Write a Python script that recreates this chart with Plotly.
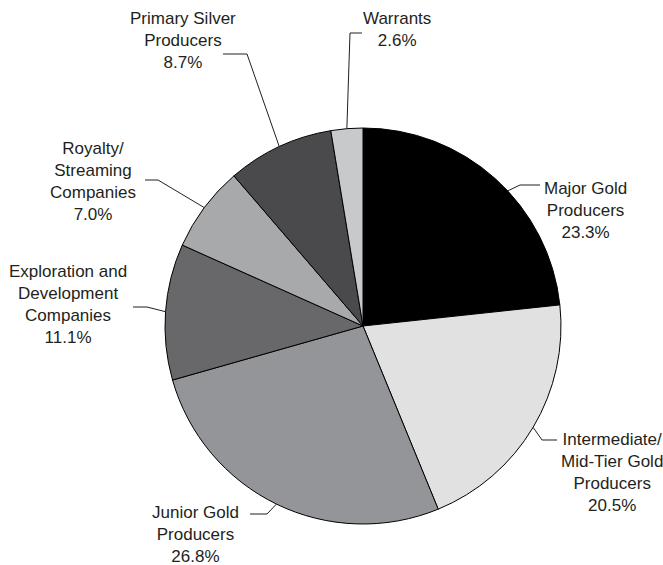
import math
import plotly.graph_objects as go

categories = ["Major Gold<br>Producers", "Intermediate/<br>Mid-Tier Gold<br>Producers",
              "Junior Gold<br>Producers", "Exploration and<br>Development<br>Companies",
              "Royalty/<br>Streaming<br>Companies", "Primary Silver<br>Producers", "Warrants"]
values = [23.3, 20.5, 26.8, 11.1, 7.0, 8.7, 2.6]
colors = ["#000000", "#e1e1e2", "#939598", "#68686a", "#a8a9ab", "#4a4a4c", "#c8c9cb"]

W, H = 663, 565
CX, CY, R = 363, 326, 198

# label layout (pixel positions): text centre, elbow point, line end near text, anchor fraction within slice
label_pos = [(585, 210), (612, 473), (195, 534), (68, 304), (93, 182), (183, 40), (397, 29)]
elbows = [(520, 185), (542, 440), (267, 514), (147, 307), (158, 180), (247, 54), (350, 33)]
ends = [(540, 185), (557, 440), (250, 514), (133, 307), (145, 180), (223, 54), (362, 33)]
anchor_frac = [0.56, 0.5, 0.5, 0.5, 0.5, 0.5, 0.5]

FONT = "Liberation Sans Narrow, Arial Narrow, Liberation Sans, Arial, sans-serif"
TXT = "#231f20"

fig = go.Figure()
fig.add_trace(go.Pie(
    values=values, labels=categories, sort=False, direction="clockwise", rotation=0,
    marker=dict(colors=colors, line=dict(color="#000000", width=1)),
    textinfo="none", hoverinfo="label+value", showlegend=False,
    domain=dict(x=[(CX - R) / W, (CX + R) / W], y=[1 - (CY + R) / H, 1 - (CY - R) / H]),
))

def px(x, y):
    return x / W, 1 - y / H

total = sum(values)
cum = 0.0
shapes, annotations = [], []
for i, (cat, v) in enumerate(zip(categories, values)):
    theta = 2 * math.pi * (cum + anchor_frac[i] * v) / total
    cum += v
    ax, ay = CX + R * math.sin(theta), CY - R * math.cos(theta)
    p0 = px(ax, ay); p1 = px(*elbows[i]); p2 = px(*ends[i])
    shapes.append(dict(type="path", xref="paper", yref="paper",
                       path=f"M {p0[0]},{p0[1]} L {p1[0]},{p1[1]} L {p2[0]},{p2[1]}",
                       line=dict(color=TXT, width=1)))
    tx, ty = px(*label_pos[i])
    annotations.append(dict(xref="paper", yref="paper", x=tx, y=ty, xanchor="center", yanchor="middle",
                            text=f"{cat}<br>{v:.1f}%", showarrow=False, align="center",
                            font=dict(family=FONT, size=17, color=TXT)))

fig.update_layout(width=W, height=H, margin=dict(l=0, r=0, t=0, b=0),
                  paper_bgcolor="white", plot_bgcolor="white",
                  shapes=shapes, annotations=annotations)
fig.write_html("out.html")
